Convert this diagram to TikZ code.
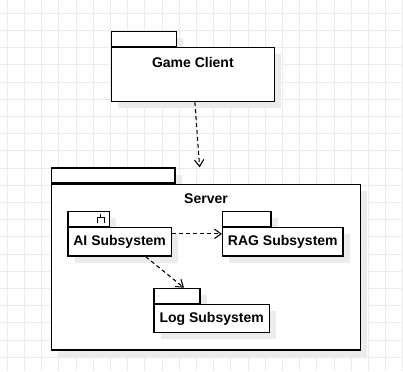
\documentclass[tikz,border=0pt]{standalone}
\usepackage{fontspec}
\setmainfont{Liberation Sans}
\usepackage{tikz}
\usetikzlibrary{positioning, calc}
\usetikzlibrary{shadows, arrows.meta}

\definecolor{gridgray}{gray}{0.92}
\definecolor{shadegray}{gray}{0.925}
\def\px{0.75pt}

\tikzset{
  pkg/.style={draw=black, line width=1pt, fill=white, inner sep=0pt,
    general shadow={fill=shadegray, shadow xshift=5pt, shadow yshift=-5pt}},
  pkgtab/.style={pkg, anchor=north west, minimum height=15*\px},
  pkgbody/.style={pkg, font=\bfseries\fontsize{10.5}{12}\selectfont},
  pkgtitle/.style={font=\bfseries\fontsize{10.5}{12}\selectfont, inner sep=0pt},
  dep/.style={line width=0.8pt, dash pattern=on 3pt off 2.25pt,
    -{Straight Barb[length=5pt, width=7pt, line width=0.8pt]}},
  gridline/.style={gridgray, line width=0.75pt}
}

\begin{document}
\begin{tikzpicture}[x=0.75pt, y=-0.75pt]
    \useasboundingbox[fill=white] (0,0) rectangle (403,371);
    % raster
    \foreach \i in {0,...,23} \draw[gridline] (7.3+17.2*\i,0) -- (7.3+17.2*\i,371);
    \foreach \j in {0,...,20} \draw[gridline] (0,13.3+17.2*\j) -- (403,13.3+17.2*\j);

    % client
    \node[pkgtab, minimum width=65.3*\px] (gc-tab) at (110.7,30.7) {};
    \node[pkgbody, minimum width=163*\px, minimum height=53.7*\px,
          below right=0pt and 0pt of gc-tab.south west] (gc) {};
    \node[pkgtitle] (gc-title) at ($(gc.north)+(0,15)$) {Game Client};

    % server
    \node[pkgtab, minimum width=123.6*\px] (srv-tab) at (50.7,167.3) {};
    \node[pkgbody, minimum width=309.3*\px, minimum height=165.6*\px,
          below right=0pt and 0pt of srv-tab.south west] (srv) {};
    \node[pkgtitle] (srv-title) at ($(srv.north)+(0,15)$) {Server};

    \node[pkgtab, minimum width=41.4*\px] (ai-tab) at (67.3,210.7) {};
    \node[pkgbody, minimum width=103.4*\px, minimum height=28.3*\px,
          below right=0pt and 0pt of ai-tab.south west] (ai) {AI Subsystem};
    \begin{scope}[shift={(ai-tab.north east)}, line width=0.8pt]
        \draw (-9.2,3) -- (-9.2,7) (-12.7,12.5) -- (-12.7,7) -- (-5.7,7) -- (-5.7,12.5);
    \end{scope}

    \node[pkgtab, minimum width=48.3*\px] (rag-tab) at (222,210.7) {};
    \node[pkgbody, minimum width=120.3*\px, minimum height=28.3*\px,
          below right=0pt and 0pt of rag-tab.south west] (rag) {RAG Subsystem};

    \node[pkgtab, minimum width=46*\px] (log-tab) at (153.3,287.7) {};
    \node[pkgbody, minimum width=115.4*\px, minimum height=28*\px,
          below right=0pt and 0pt of log-tab.south west] (log) {Log Subsystem};

    % dependencies
    \coordinate (srv-in) at ($(srv-tab.north east)+(24,0)$);
    \draw[dep] ($(gc.south)+(2,0)$) -- (srv-in);
    \draw[dep] ($(ai.east)+(0,-8)$) -- ($(rag.west)+(0,-8)$);
    \draw[dep] ($(ai.south)+(26,0)$) -- ($(log-tab.north)+(7,0)$);
\end{tikzpicture}
\end{document}
